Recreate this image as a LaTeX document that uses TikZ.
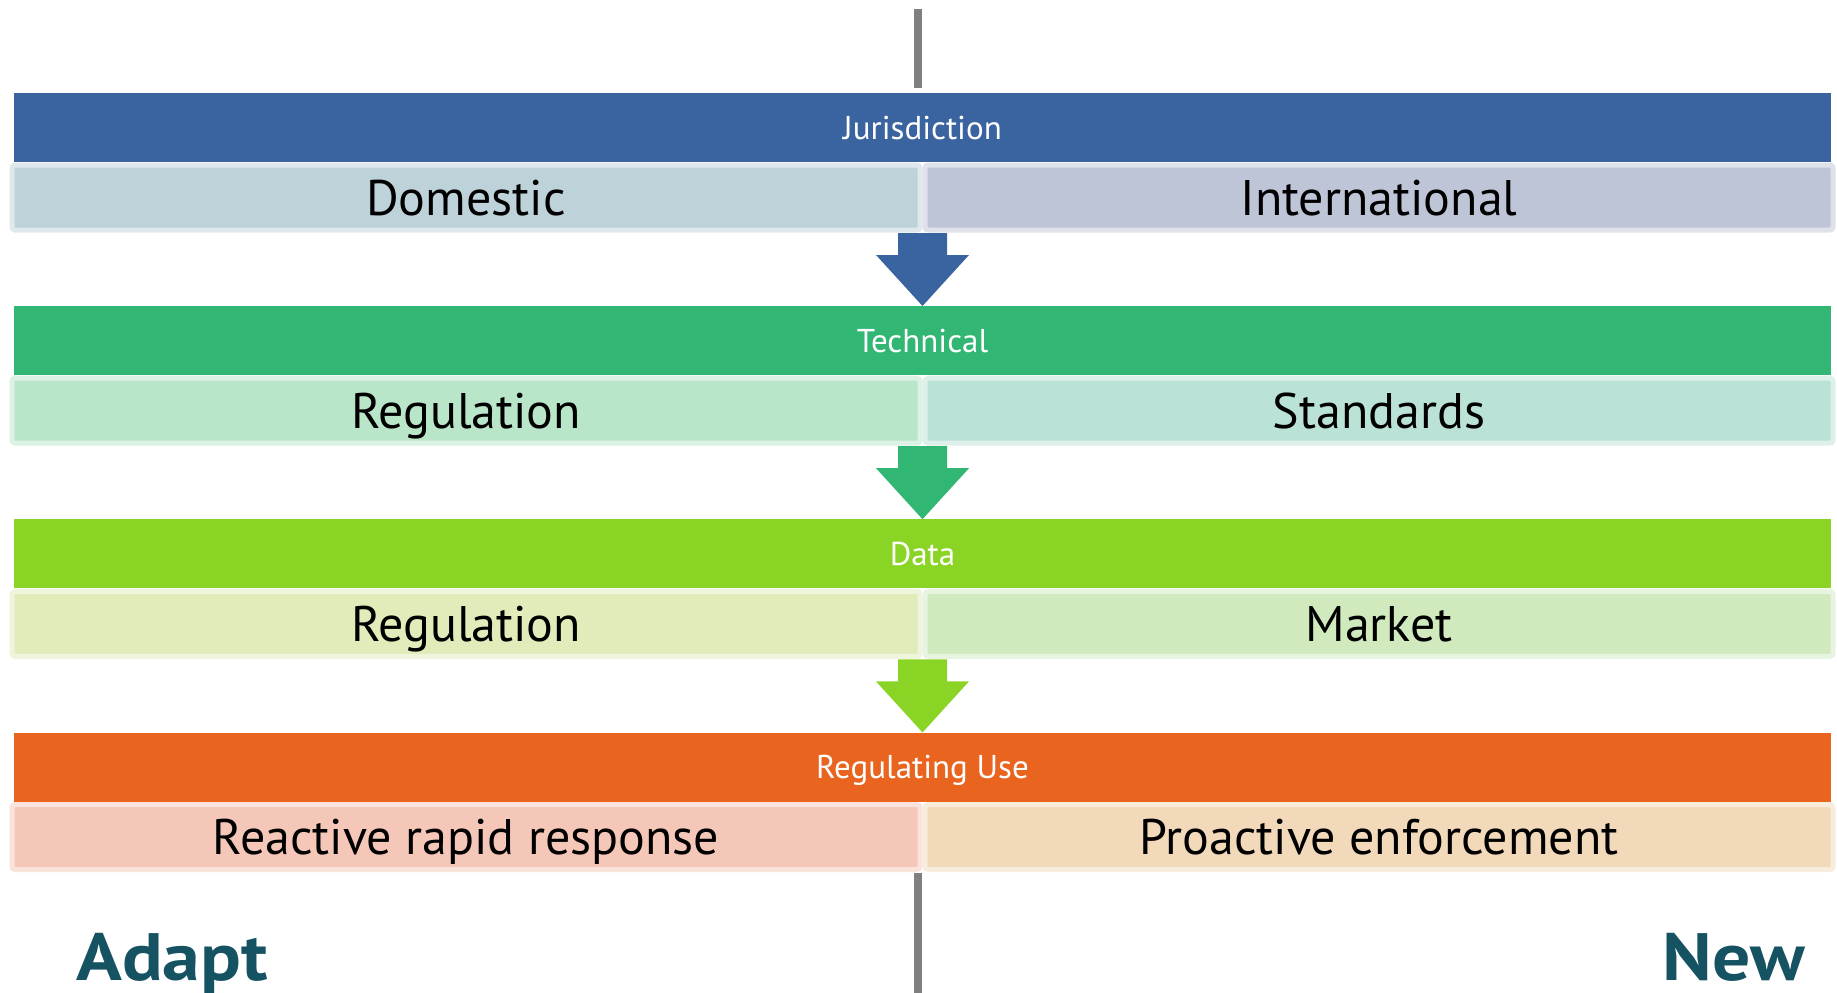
\documentclass[tikz,border=0pt]{standalone}
\usepackage{fontspec}
\setmainfont{PT Sans}
\usetikzlibrary{calc}
\definecolor{hA}{HTML}{3A64A0}
\definecolor{hB}{HTML}{31B673}
\definecolor{hC}{HTML}{8AD425}
\definecolor{hD}{HTML}{E9641E}
\definecolor{cA1}{HTML}{BED2DA}
\definecolor{cA2}{HTML}{BEC5D7}
\definecolor{cB1}{HTML}{B9E5C9}
\definecolor{cB2}{HTML}{BAE2D6}
\definecolor{cC1}{HTML}{E0ECB9}
\definecolor{cC2}{HTML}{D0EABE}
\definecolor{cD1}{HTML}{F5C7B8}
\definecolor{cD2}{HTML}{F2D9BA}
\definecolor{tealtxt}{HTML}{165362}
\definecolor{vgray}{HTML}{808080}
\tikzset{
  hdr/.style={minimum width=1817pt, minimum height=69pt, inner sep=0pt,
    text=white, font=\fontsize{33}{33}\selectfont, text height=23pt, text depth=0pt},
  cell/.style={minimum width=908pt, minimum height=65pt, inner sep=0pt,
    line width=5pt, rounded corners=3pt, font=\fontsize{50}{50}\selectfont,
    text height=35pt, text depth=0pt, text=black},
  vline/.style={draw=vgray, line width=8pt},
  endlabel/.style={inner sep=0pt, text=tealtxt, font=\fontsize{67}{67}\selectfont\bfseries}
}
\begin{document}
\begin{tikzpicture}[x=1pt,y=-1pt]
\useasboundingbox (0,0) rectangle (1837,993);
% headers and cells
\foreach \k/\hcol/\cola/\colb/\htxt/\ltxt/\rtxt in {
  0/hA/cA1/cA2/Jurisdiction/Domestic/International,
  1/hB/cB1/cB2/Technical/Regulation/Standards,
  2/hC/cC1/cC2/Data/Regulation/Market,
  3/hD/cD1/cD2/Regulating Use/Reactive rapid response/Proactive enforcement}{
  \pgfmathsetmacro{\yy}{93+213.2*\k}
  \node[hdr, fill=\hcol] (h\k) at (922.5,\yy+34.5) {\htxt};
  \node[cell, fill=\cola, draw=\cola!50!white] (l\k) at (466,\yy+104.5) {\ltxt};
  \node[cell, fill=\colb, draw=\colb!50!white] (r\k) at (1379,\yy+104.5) {\rtxt};
  \coordinate (s\k) at (922.5,\yy+140);
}
% arrows
\foreach \k/\n/\hcol in {0/1/hA, 1/2/hB, 2/3/hC}{
  \fill[\hcol] ($(s\k)+(-24.5,0)$) -- ($(s\k)+(24.5,0)$) -- ($(s\k)+(24.5,22)$)
    -- ($(s\k)+(46.5,22)$) -- (h\n.north) -- ($(s\k)+(-46.5,22)$)
    -- ($(s\k)+(-24.5,22)$) -- cycle;
}
% vertical divider line
\coordinate (vt) at (918,9);
\coordinate (vtb) at (918,88);
\coordinate (vb) at (918,873);
\coordinate (vbb) at (918,993);
\draw[vline] (vt) -- (vtb);
\draw[vline] (vb) -- (vbb);
% end labels
\node[endlabel, anchor=base west] (adapt) at (76,980) {\scalebox{1.13}[1]{Adapt}};
\node[endlabel, anchor=base east] (new) at (1805,980) {\scalebox{1.13}[1]{New}};
\end{tikzpicture}
\end{document}
